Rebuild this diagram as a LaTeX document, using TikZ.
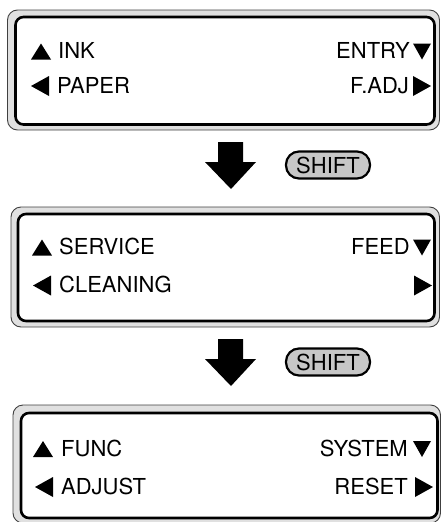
\documentclass[tikz,border=0pt]{standalone}
\usepackage{fontspec}
\setmainfont{TeX Gyre Heros}
\usetikzlibrary{positioning}
\tikzset{
  uptri/.pic={\fill (-10,8) -- (10,8) -- (0,-8) -- cycle;},
  downtri/.pic={\fill (-9,-8) -- (9,-8) -- (0,8) -- cycle;},
  lefttri/.pic={\fill (9,-10) -- (9,10) -- (-9,0) -- cycle;},
  righttri/.pic={\fill (-9,-10) -- (-9,10) -- (9,0) -- cycle;},
  bigarrow/.pic={\fill (-13,0) -- (12,0) -- (12,20) -- (25,20) -- (0,47) -- (-26,20) -- (-13,20) -- cycle;}
}
\begin{document}
\begin{tikzpicture}[x=1pt,y=-1pt,
  label/.style={inner sep=0pt,font=\fontsize{22}{26}\selectfont},
  outerframe/.style={draw=black!75,fill=black!12,line width=0.9pt,rounded corners=10pt},
  innerframe/.style={draw=black,fill=white,line width=2.6pt,rounded corners=8pt},
  shiftkey/.style={draw=black,fill=black!22,line width=2.2pt,rounded corners=13pt,
    minimum width=84pt,minimum height=27pt,inner sep=0pt,font=\fontsize{22}{26}\selectfont}]
\useasboundingbox (0,0) rectangle (440,522);

% the three display panels
\foreach \ox/\oy/\oX/\oY/\ix/\iy/\iX/\iY in
  {7.5/10/439.5/130/15.5/17/434.5/124.5,
   11/207/439.5/327/18/214/434.5/321,
   13/405/440.5/523/21/413/437.5/518}{
  \draw[outerframe] (\ox,\oy) rectangle (\oX,\oY);
  \draw[innerframe] (\ix,\iy) rectangle (\iX,\iY);
}

% panel 1
\node[label,anchor=base west] (ink) at (58,58.5) {INK};
\node[label,anchor=base west] (paper) at (57,93.5) {PAPER};
\node[label,anchor=base east] (entry) at (410,58.5) {ENTRY};
\node[label,anchor=base east] (fadj) at (409,93.5) {F.ADJ};
\pic at (41,51.5) {uptri};
\pic at (40,86) {lefttri};
\pic at (422,51.5) {downtri};
\pic at (422,86) {righttri};

% panel 2
\node[label,anchor=base west] (service) at (59,254.5) {SERVICE};
\node[label,anchor=base west] (cleaning) at (59,292.5) {CLEANING};
\node[label,anchor=base east] (feed) at (410,254.5) {FEED};
\pic at (42,247.5) {uptri};
\pic at (42,285.5) {lefttri};
\pic at (422,247.5) {downtri};
\pic at (423,285.5) {righttri};

% panel 3
\node[label,anchor=base west] (func) at (61,456.5) {FUNC};
\node[label,anchor=base west] (adjust) at (61,494.5) {ADJUST};
\node[label,anchor=base east] (system) at (408,456.5) {SYSTEM};
\node[label,anchor=base east] (reset) at (408,494.5) {RESET};
\pic at (43,449) {uptri};
\pic at (44,487) {lefttri};
\pic at (422,449) {downtri};
\pic at (424,487) {righttri};

% arrows and shift keys
\pic at (231,142) {bigarrow};
\pic at (231,339) {bigarrow};
\node[shiftkey] (shiftone) at (328,165) {SHIFT};
\node[shiftkey] (shifttwo) at (328,362) {SHIFT};
\end{tikzpicture}
\end{document}
